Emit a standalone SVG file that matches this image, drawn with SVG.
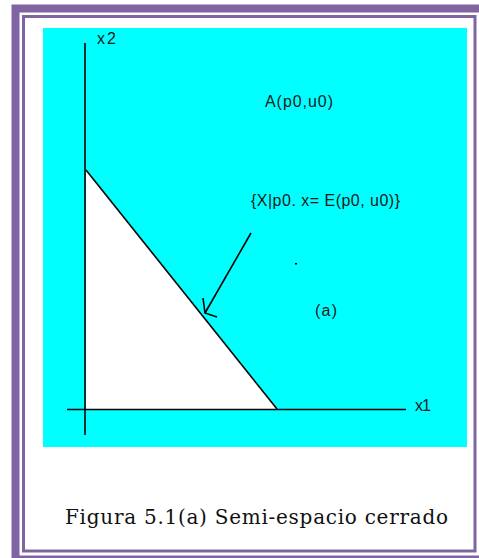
<svg xmlns="http://www.w3.org/2000/svg" width="479" height="558" viewBox="0 0 479 558">
<style>
.lbl{font-family:"Liberation Sans",Arial,sans-serif;font-size:16px;fill:#1a1a1a}
.ax{stroke:#000;stroke-width:1.6;fill:none}
.frame{fill:none;stroke:#8064a2}
</style>
<rect width="479" height="558" fill="#fff"/>
<g id="frame">
<rect class="frame" x="15.5" y="8.5" width="480" height="551" stroke-width="8"/>
<rect class="frame" x="23.5" y="16.5" width="451.5" height="534.5" stroke-width="3"/>
</g>
<g id="plot-area">
<rect x="43" y="28" width="424" height="419" fill="#00ffff"/>
<polygon points="86,170 277,409 86,409" fill="#fff"/>
</g>
<g id="connectors">
<line class="ax" x1="85" y1="43" x2="85" y2="435"/>
<line class="ax" x1="67" y1="409.5" x2="406" y2="409.5"/>
<line class="ax" x1="86" y1="170" x2="277" y2="409" stroke-width="1.5"/>
<line class="ax" x1="251" y1="233" x2="205" y2="313" stroke-width="1.2"/>
<polyline class="ax" points="203,298 205,313 217,317" stroke-width="1.2"/>
<rect x="295" y="263" width="2" height="1.5" fill="#000"/>
</g>
<g id="label-x2"><text class="lbl" x="97" y="44" textLength="19">x2</text></g>
<g id="label-x1"><text class="lbl" x="415" y="410.5" textLength="16">x1</text></g>
<g id="label-A"><text class="lbl" x="265" y="107" textLength="68">A(p0,u0)</text></g>
<g id="label-set"><text class="lbl" x="251" y="206" textLength="149">{X|p0. x= E(p0, u0)}</text></g>
<g id="label-a"><text class="lbl" x="315" y="316" textLength="22">(a)</text></g>
<g id="caption"><text x="65" y="523.5" font-family="'DejaVu Serif',Georgia,serif" font-size="20" fill="#111" textLength="383">Figura 5.1(a) Semi-espacio cerrado</text></g>
</svg>
